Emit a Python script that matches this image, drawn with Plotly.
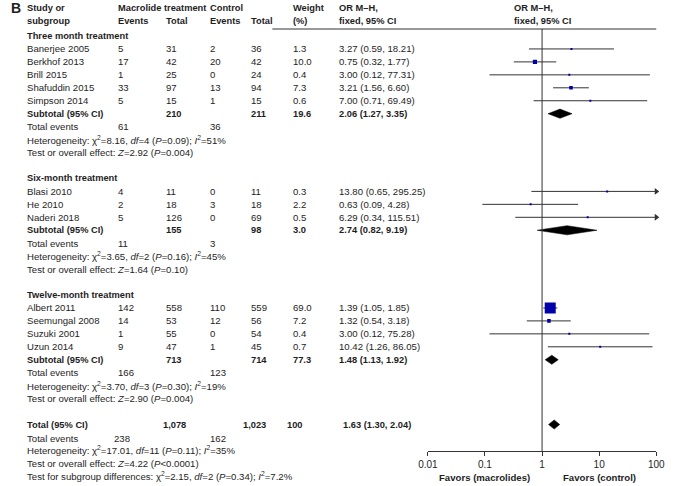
import math
import plotly.graph_objects as go

# ---------------- data ----------------
subgroups = ["Three month treatment", "Six-month treatment", "Twelve-month treatment"]
group_of = [0, 0, 0, 0, 0, 1, 1, 1, 2, 2, 2, 2]
studies = ["Banerjee 2005", "Berkhof 2013", "Brill 2015", "Shafuddin 2015", "Simpson 2014",
           "Blasi 2010", "He 2010", "Naderi 2018",
           "Albert 2011", "Seemungal 2008", "Suzuki 2001", "Uzun 2014"]
mac_events = [5, 17, 1, 33, 5, 4, 2, 5, 142, 14, 1, 9]
mac_total = [31, 42, 25, 97, 15, 11, 18, 126, 558, 53, 55, 47]
ctl_events = [2, 20, 0, 13, 1, 0, 3, 0, 110, 12, 0, 1]
ctl_total = [36, 42, 24, 94, 15, 11, 18, 69, 559, 56, 54, 45]
weights = [1.3, 10.0, 0.4, 7.3, 0.6, 0.3, 2.2, 0.5, 69.0, 7.2, 0.4, 0.7]
or_est = [3.27, 0.75, 3.00, 3.21, 7.00, 13.80, 0.63, 6.29, 1.39, 1.32, 3.00, 10.42]
or_lo = [0.59, 0.32, 0.12, 1.56, 0.71, 0.65, 0.09, 0.34, 1.05, 0.54, 0.12, 1.26]
or_hi = [18.21, 1.77, 77.31, 6.60, 69.49, 295.25, 4.28, 115.51, 1.85, 3.18, 75.28, 86.05]

sub_mac_total = [210, 155, 713]
sub_ctl_total = [211, 98, 714]
sub_weight = ["19.6", "3.0", "77.3"]
sub_or = [2.06, 2.74, 1.48]
sub_lo = [1.27, 0.82, 1.13]
sub_hi = [3.35, 9.19, 1.92]
sub_ev_mac = [61, 11, 166]
sub_ev_ctl = [36, 3, 123]
sub_chi2 = ["8.16", "3.65", "3.70"]
sub_df = [4, 2, 3]
sub_p = ["0.09", "0.16", "0.30"]
sub_i2 = ["51", "45", "19"]
sub_z = ["2.92", "1.64", "2.90"]
sub_pz = ["=0.004", "=0.10", "=0.004"]

tot_mac, tot_ctl, tot_w = "1,078", "1,023", "100"
tot_or, tot_lo, tot_hi = 1.63, 1.30, 2.04
tot_ev_mac, tot_ev_ctl = 238, 162
tot_chi2, tot_df, tot_p, tot_i2 = "17.01", 11, "0.11", "35"
tot_z, tot_pz = "4.22", "&lt;0.0001"
diff_chi2, diff_df, diff_p, diff_i2 = "2.15", 2, "0.34", "7.2"

tick_vals = [0.01, 0.1, 1, 10, 100]
tick_text = ["0.01", "0.1", "1", "10", "100"]
favor_labels = ["Favors (macrolides)", "Favors (control)"]
favor_pos = [0.1, 10]
x_min, x_max = 0.01, 100

# ---------------- layout constants ----------------
W, H = 674, 486
FONT = "Liberation Sans, Arial, sans-serif"
FS = 9.6
BFS = 9.3
TXT = "#1e1e1e"
BLUE = "#0000aa"
LINE = "#333333"
ROW0, ROWH = 36, 12.95
AXIS_Y = 451
COL = dict(study=16, mev=110, mtot=160, cev=205, ctot=247, w=290, ortxt=337, hdr2=518)


def ry(k):
    return ROW0 + ROWH * k


ann = []


def txt(x, y, s, bold=False, size=None, xanchor="left", xref="x"):
    if size is None:
        size = BFS if bold else FS
    ann.append(dict(x=x, y=y, xref=xref, yref="y", text=(f"<b>{s}</b>" if bold else s),
                    showarrow=False, xanchor=xanchor, yanchor="middle",
                    align="left" if xanchor == "left" else "center",
                    font=dict(size=size, color=TXT, family=FONT), borderpad=0))


def fmt_ci(e, l, h):
    return f"{e:.2f} ({l:.2f}, {h:.2f})"


# header
txt(0, 8, "B", bold=True, size=14)
for x, a, b in [(COL["study"], "Study or", "subgroup"), (COL["mev"], "Macrolide treatment", "Events"),
                (COL["mtot"], "", "Total"), (COL["cev"], "Control", "Events"),
                (COL["ctot"], "", "Total"), (COL["w"], "Weight", "(%)"),
                (COL["ortxt"], "OR M–H,", "fixed, 95% CI"), (COL["hdr2"], "OR M–H,", "fixed, 95% CI")]:
    if a:
        txt(x, 8, a, bold=True)
    txt(x, 21, b, bold=True)

ci_x, ci_y = [], []
sq_x, sq_y, sq_s = [], [], []
arr_x, arr_y = [], []
diamonds = []

k = 0
for g, name in enumerate(subgroups):
    txt(COL["study"], ry(k), name, bold=True)
    k += 1
    for i in range(len(studies)):
        if group_of[i] != g:
            continue
        y = ry(k)
        txt(COL["study"], y, studies[i])
        txt(COL["mev"], y, str(mac_events[i]))
        txt(COL["mtot"], y, str(mac_total[i]))
        txt(COL["cev"], y, str(ctl_events[i]))
        txt(COL["ctot"], y, str(ctl_total[i]))
        txt(COL["w"], y, f"{weights[i]:.1f}")
        txt(COL["ortxt"], y, fmt_ci(or_est[i], or_lo[i], or_hi[i]))
        ci_x += [max(or_lo[i], x_min), min(or_hi[i], x_max), None]
        ci_y += [y, y, None]
        sq_x.append(or_est[i]); sq_y.append(y)
        sq_s.append(max(2.0, 11.0 * math.sqrt(weights[i] / 69.0)))
        if or_hi[i] > x_max:
            arr_x.append(x_max); arr_y.append(y)
        k += 1
    y = ry(k)
    txt(COL["study"], y, "Subtotal (95% CI)", bold=True)
    txt(COL["mtot"], y, str(sub_mac_total[g]), bold=True)
    txt(COL["ctot"], y, str(sub_ctl_total[g]), bold=True)
    txt(COL["w"], y, sub_weight[g], bold=True)
    txt(COL["ortxt"], y, fmt_ci(sub_or[g], sub_lo[g], sub_hi[g]), bold=True)
    diamonds.append((sub_or[g], sub_lo[g], sub_hi[g], y))
    k += 1
    y = ry(k)
    txt(COL["study"], y, "Total events")
    txt(COL["mev"], y, str(sub_ev_mac[g]))
    txt(COL["cev"], y, str(sub_ev_ctl[g]))
    k += 1
    txt(COL["study"], ry(k), f"Heterogeneity: χ<sup>2</sup>={sub_chi2[g]}, <i>df</i>={sub_df[g]} "
        f"(<i>P</i>={sub_p[g]}); <i>I</i><sup>2</sup>={sub_i2[g]}%")
    k += 1
    txt(COL["study"], ry(k), f"Test or overall effect: <i>Z</i>={sub_z[g]} (<i>P</i>{sub_pz[g]})")
    k += 2

# overall
y = ry(k)
txt(COL["study"], y, "Total (95% CI)", bold=True)
txt(COL["mtot"] - 4, y, tot_mac, bold=True)
txt(COL["ctot"] - 8, y, tot_ctl, bold=True)
txt(COL["w"] - 6, y, tot_w, bold=True)
txt(COL["ortxt"] + 5, y, fmt_ci(tot_or, tot_lo, tot_hi), bold=True)
diamonds.append((tot_or, tot_lo, tot_hi, y))
k += 1
y = ry(k) + 1
txt(COL["study"], y, "Total events")
txt(COL["mev"] - 4, y, str(tot_ev_mac))
txt(COL["cev"], y, str(tot_ev_ctl))
k += 1
txt(COL["study"], ry(k), f"Heterogeneity: χ<sup>2</sup>={tot_chi2}, <i>df</i>={tot_df} "
    f"(<i>P</i>={tot_p}); <i>I</i><sup>2</sup>={tot_i2}%")
k += 1
txt(COL["study"], ry(k), f"Test or overall effect: <i>Z</i>={tot_z} (<i>P</i>{tot_pz})")
k += 1
txt(COL["study"], ry(k), f"Test for subgroup differences: χ<sup>2</sup>={diff_chi2}, <i>df</i>={diff_df} "
    f"(<i>P</i>={diff_p}); <i>I</i><sup>2</sup>={diff_i2}%")

# favors labels (annotation x on a log axis is given in log10 units)
for lab, pos in zip(favor_labels, favor_pos):
    txt(math.log10(pos), 477, lab, bold=True, size=9.6, xanchor="center", xref="x2")

fig = go.Figure()
fig.add_trace(go.Scatter(x=ci_x, y=ci_y, mode="lines", xaxis="x2", yaxis="y",
                         line=dict(color=LINE, width=1), hoverinfo="skip"))
fig.add_trace(go.Scatter(x=sq_x, y=sq_y, mode="markers", xaxis="x2", yaxis="y",
                         marker=dict(symbol="square", size=sq_s, color=BLUE, opacity=1,
                                     line=dict(width=0))))
fig.add_trace(go.Scatter(x=arr_x, y=arr_y, mode="markers", xaxis="x2", yaxis="y", cliponaxis=False,
                         marker=dict(symbol="triangle-right", size=6, color=LINE, line=dict(width=0))))
DH = 4.6
for e, lo, hi, yd in diamonds:
    fig.add_trace(go.Scatter(x=[lo, e, hi, e, lo], y=[yd, yd - DH, yd, yd + DH, yd], mode="lines",
                             fill="toself", fillcolor="black", line=dict(color="black", width=0.5),
                             xaxis="x2", yaxis="y", hoverinfo="skip"))

shapes = [
    dict(type="line", xref="x", yref="y", x0=270, x1=665, y0=29, y1=29,
         line=dict(color=LINE, width=1)),
    dict(type="line", xref="x2", yref="y", x0=1, x1=1, y0=29, y1=AXIS_Y,
         line=dict(color=LINE, width=1)),
]

fig.update_layout(
    width=W, height=H, margin=dict(l=0, r=0, t=0, b=0),
    paper_bgcolor="white", plot_bgcolor="white", showlegend=False,
    font=dict(family=FONT, size=FS, color=TXT),
    xaxis=dict(range=[0, W], visible=False, domain=[0, 1]),
    xaxis2=dict(type="log", range=[math.log10(x_min), math.log10(x_max)],
                domain=[430 / W, 665 / W], anchor="free", position=1 - AXIS_Y / H,
                showline=True, linecolor=LINE, linewidth=1, ticks="outside", ticklen=4,
                tickcolor=LINE, tickvals=tick_vals, ticktext=tick_text, showgrid=False,
                zeroline=False, tickfont=dict(size=10, color=TXT, family=FONT)),
    yaxis=dict(range=[H, 0], visible=False, domain=[0, 1]),
    annotations=ann, shapes=shapes,
)

fig.write_html("out.html", config={"responsive": False, "displayModeBar": False},
               post_script="document.body.style.margin='0';document.body.style.overflow='hidden';")
